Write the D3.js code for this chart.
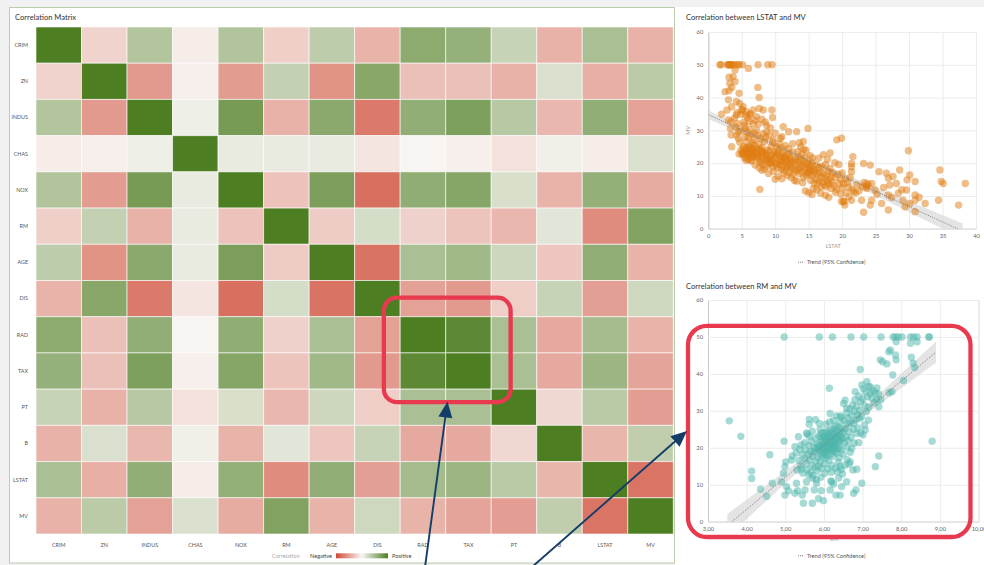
<!DOCTYPE html>
<html><head><meta charset="utf-8">
<script src="https://cdn.jsdelivr.net/npm/d3@7"></script>
<style>
html,body{margin:0;padding:0;background:#f1f1f1;}
svg{display:block;font-family:Lato,"Open Sans",sans-serif;}
</style></head>
<body><svg id="chart" width="984" height="565"></svg>
<script>
// ---------------- DATA ----------------
const variables = ["CRIM","ZN","INDUS","CHAS","NOX","RM","AGE","DIS","RAD","TAX","PT","B","LSTAT","MV"];
const corrValues = [
 [1.00,-0.20,0.41,-0.06,0.42,-0.22,0.35,-0.38,0.63,0.58,0.29,-0.39,0.46,-0.39],
 [-0.20,1.00,-0.53,-0.04,-0.52,0.31,-0.57,0.66,-0.31,-0.31,-0.39,0.18,-0.41,0.36],
 [0.41,-0.53,1.00,0.06,0.76,-0.39,0.64,-0.71,0.60,0.72,0.38,-0.36,0.60,-0.48],
 [-0.06,-0.04,0.06,1.00,0.09,0.09,0.09,-0.10,-0.01,-0.04,-0.12,0.05,-0.05,0.18],
 [0.42,-0.52,0.76,0.09,1.00,-0.30,0.73,-0.77,0.61,0.67,0.19,-0.38,0.59,-0.43],
 [-0.22,0.31,-0.39,0.09,-0.30,1.00,-0.24,0.21,-0.21,-0.29,-0.36,0.13,-0.61,0.70],
 [0.35,-0.57,0.64,0.09,0.73,-0.24,1.00,-0.75,0.46,0.51,0.26,-0.27,0.60,-0.38],
 [-0.38,0.66,-0.71,-0.10,-0.77,0.21,-0.75,1.00,-0.49,-0.53,-0.23,0.29,-0.50,0.25],
 [0.63,-0.31,0.60,-0.01,0.61,-0.21,0.46,-0.49,1.00,0.91,0.46,-0.44,0.49,-0.38],
 [0.58,-0.31,0.72,-0.04,0.67,-0.29,0.51,-0.53,0.91,1.00,0.46,-0.44,0.54,-0.47],
 [0.29,-0.39,0.38,-0.12,0.19,-0.36,0.26,-0.23,0.46,0.46,1.00,-0.18,0.37,-0.51],
 [-0.39,0.18,-0.36,0.05,-0.38,0.13,-0.27,0.29,-0.44,-0.44,-0.18,1.00,-0.37,0.33],
 [0.46,-0.41,0.60,-0.05,0.59,-0.61,0.60,-0.50,0.49,0.54,0.37,-0.37,1.00,-0.74],
 [-0.39,0.36,-0.48,0.18,-0.43,0.70,-0.38,0.25,-0.38,-0.47,-0.51,0.33,-0.74,1.00]
];
const highlightVars = ["RAD","TAX"];

const lstatTicks = [0,5,10,15,20,25,30,35,40];
const rmTicks = [3,4,5,6,7,8,9,10];
const mvTicks = [0,10,20,30,40,50,60];

// [LSTAT, MV]
const lstatMvPoints = [
 [1.73,50],[1.92,50],[2.88,50],[2.97,50],[3.16,50],[3.26,50],[3.32,50],[3.53,50],[3.70,50],[4.04,50],[4.45,50],[4.59,50],[5.12,50],[7.44,50],[8.88,50],[9.53,50],
 [4.0,48.4],[3.7,46.4],[3.1,46.2],[4.0,44.9],[3.2,44.4],[3.5,43.1],[2.5,41.8],[3.1,42.1],[4.6,41.3],[7.4,43.1],[7.6,40.0],[6.0,48.9],[3.0,39.3],[4.2,38.8],
 [2.0,34.9],[2.8,36.2],[3.5,37.2],[4.7,38.2],[5.2,37.2],[5.0,36.2],[5.7,35.7],[6.7,36.2],[7.6,36.7],[8.2,36.2],[9.5,36.2],[9.6,33.9],[3.4,32.7],[3.9,33.7],
 [4.2,34.7],[6.2,34.7],[7.2,34.2],[7.5,31.9],[6.1,32.7],[3.0,33.2],[3.3,30.6],[3.4,28.6],[3.5,25.0],[5.5,30.6],[4.5,29.6],[8.7,31.6],[8.7,29.6],[10.0,29.1],
 [11.2,31.1],[12.0,29.6],[13.2,29.6],[14.9,30.6],[9.7,27.1],[11.0,28.1],[14.2,26.6],[19.2,27.1],[19.9,27.6],[29.9,23.8],[7.7,12.0],
 [4.2,28.5],[4.5,27.5],[4.7,26.4],[4.9,24.0],[5.0,23.1],[5.1,22.6],[5.2,25.0],[5.3,24.4],[5.5,23.6],[5.6,22.0],[5.7,26.5],[5.8,24.8],[5.9,23.3],[6.0,21.2],
 [6.1,24.1],[6.2,25.3],[6.3,22.8],[6.4,23.9],[6.5,20.6],[6.6,24.5],[6.7,22.2],[6.8,27.0],[6.9,25.5],[7.0,23.0],[7.1,21.7],[4.6,22.8],[4.8,29.8],[5.4,31.5],
 [5.5,28.0],[5.8,29.5],[6.0,27.9],[6.2,30.3],[6.4,28.7],[6.6,26.2],[6.9,29.1],[7.0,33.1],[5.3,32.5],[5.9,33.8],[6.3,35.1],[6.7,32.0],[4.4,32.0],[4.1,31.0],
 [4.3,35.4],[4.9,34.9],[5.1,36.2],[5.6,34.6],[5.4,21.5],[5.8,22.9],[6.1,22.5],[6.5,23.2],[5.7,20.8],[6.3,21.1],[6.8,24.0],[5.3,23.0],[6.0,24.6],[6.6,21.9],
 [7.2,24.5],[7.3,23.4],[7.4,22.0],[7.5,21.4],[7.6,25.8],[7.7,20.1],[7.8,23.9],[7.9,22.5],[8.0,24.8],[8.1,19.6],[8.2,21.8],[8.3,23.1],[8.4,26.6],[8.5,20.9],
 [8.6,22.9],[8.7,19.0],[8.8,24.0],[8.9,21.5],[9.0,20.3],[9.1,23.7],[9.2,19.8],[9.3,22.2],[9.4,25.0],[9.5,21.0],[9.6,18.8],[9.7,22.8],[9.8,20.5],[9.9,23.3],
 [7.4,28.4],[7.8,27.5],[8.2,29.0],[8.6,27.8],[9.1,28.5],[9.6,26.4],[7.6,18.6],[8.0,17.8],[8.4,18.2],[9.0,16.8],[9.7,17.5],[7.2,30.1],[8.5,32.5],[9.3,30.7],
 [8.0,33.4],[7.0,19.4],[7.9,20.6],[8.8,21.2],[9.4,20.0],[7.3,22.7],[8.1,23.5],[8.7,22.3],[9.2,21.3],[7.7,24.2],
 [10.0,21.7],[10.1,19.4],[10.2,22.6],[10.3,20.0],[10.4,18.5],[10.5,23.9],[10.6,21.1],[10.7,19.6],[10.8,22.0],[10.9,18.1],[11.0,20.5],[11.1,23.1],[11.2,19.1],
 [11.3,21.6],[11.4,17.8],[11.5,20.1],[11.6,22.4],[11.7,18.7],[11.8,20.8],[11.9,19.3],[12.0,22.9],[12.1,17.2],[12.2,20.6],[12.3,18.4],[12.4,21.2],[12.5,19.0],
 [12.6,23.4],[12.7,16.6],[12.8,20.3],[12.9,18.0],[10.2,25.0],[10.6,26.0],[11.0,24.6],[11.5,25.4],[12.0,24.4],[12.6,25.9],[10.4,16.0],[11.0,15.2],[11.8,16.2],
 [12.4,15.6],[10.0,15.1],[12.9,14.7],[10.8,27.5],[11.3,17.0],[12.2,19.7],[10.3,23.0],[10.9,20.9],[11.6,21.3],[12.1,21.8],[11.2,22.3],
 [13.0,21.4],[13.1,19.5],[13.2,17.6],[13.3,20.8],[13.4,18.3],[13.5,22.0],[13.6,16.8],[13.7,19.9],[13.8,18.7],[13.9,21.0],[14.0,17.4],[14.1,19.2],[14.2,15.6],
 [14.3,20.4],[14.4,18.0],[14.5,21.7],[14.6,16.2],[14.7,19.6],[14.8,17.1],[14.9,20.0],[15.0,18.5],[15.1,16.6],[15.2,19.3],[15.3,14.8],[15.4,17.7],[15.5,20.3],
 [15.6,16.0],[15.7,18.2],[15.8,13.8],[15.9,17.0],[13.4,23.5],[14.0,22.8],[14.6,23.9],[15.2,22.3],[13.8,25.0],[14.3,24.2],[15.0,11.0],[15.5,10.4],[14.5,11.5],
 [13.2,14.5],[14.1,14.0],[15.7,12.2],[13.6,26.2],[15.6,21.6],[14.9,17.4],[15.3,18.8],
 [16.0,17.8],[16.1,15.2],[16.2,19.4],[16.3,13.9],[16.4,16.6],[16.5,18.6],[16.6,14.6],[16.7,17.2],[16.8,12.7],[16.9,15.8],[17.0,18.9],[17.1,14.1],[17.2,16.8],
 [17.3,13.3],[17.4,15.4],[17.5,19.6],[17.6,12.8],[17.7,16.2],[17.8,14.4],[17.9,17.5],[18.0,13.6],[18.1,15.0],[18.2,18.4],[18.3,12.3],[18.4,16.0],[18.5,14.0],
 [18.6,17.1],[18.8,13.1],[19.0,15.6],[19.2,12.0],[19.4,16.6],[19.6,13.8],[19.8,14.9],[20.0,17.0],[16.5,21.5],[17.2,22.6],[17.8,21.2],[18.2,23.1],[18.9,20.1],
 [19.5,19.6],[16.8,10.8],[17.5,10.2],[18.0,9.6],[19.0,11.1],[19.8,10.5],[16.2,11.9],[20.0,12.5],[20.2,13.6],[20.5,15.2],[20.8,14.0],[21.0,12.7],[21.2,15.6],
 [20.6,11.0],[21.5,12.0],[21.0,9.7],[22.0,10.9],[22.5,11.5],[23.0,12.7],[23.3,14.1],[23.6,12.8],[22.2,13.4],[20.3,8.4],[19.9,8.3],
 [20.2,8.2],[20.4,7.2],[21.4,8.7],[21.7,11.3],[21.6,22.0],[21.4,19.9],[21.4,18.9],[21.4,17.4],[23.2,19.9],[24.2,19.4],[23.2,5.0],[22.9,8.7],[24.2,7.2],
 [24.4,8.7],[23.7,13.8],[23.9,13.3],[24.4,13.8],[23.7,12.3],[24.9,11.8],[25.5,17.4],[26.6,16.9],[26.9,15.4],[27.1,13.3],[27.6,15.9],[28.1,13.8],[28.6,17.9],
 [28.4,10.8],[26.9,10.3],[25.9,7.7],[26.9,5.7],[29.1,8.7],[29.6,11.8],[29.7,14.9],[30.1,16.4],[30.9,14.4],[30.9,10.3],[30.9,8.7],[30.1,7.7],[30.9,5.2],
 [32.4,7.7],[34.4,8.7],[34.6,17.9],[34.8,14.4],[35.1,13.8],[37.4,7.2],[38.4,13.8],[29.4,6.7],[25.2,10.5],[26.2,12.6],[27.4,9.5],[28.9,11.9],[31.5,9.6]
];

// [RM, MV]
const rmMvPoints = [
 [4.97,50],[5.88,50],[6.22,50],[6.70,50],[7.03,50],[7.48,50],[7.79,50],[7.85,50],[7.92,50],[8.02,50],[8.24,50],[8.32,50],[8.41,50],[8.71,50],[8.73,50],[7.87,48.7],
 [8.24,48.3],[8.41,48.7],
 [3.55,27.3],[3.85,23.1],[4.13,13.7],[4.13,11.7],[4.36,8.8],[4.52,6.9],[4.60,18.1],[4.66,10.4],[8.80,21.8],[4.97,21.8],[7.33,14.9],[7.42,17.8],[6.14,36.1],
 [6.94,41.2],[7.78,39.7],[8.06,38.2],[8.26,44.5],[8.35,41.7],[8.31,42.9],[7.46,43.8],[7.52,43.3],[7.63,42.7],[7.68,46.0],[7.72,46.5],[7.85,45.1],[7.87,43.8],
 [7.76,35.2],[7.69,34.9],[7.20,34.7],[7.16,36.6],[6.98,37.0],[7.11,37.9],[6.81,35.2],[7.37,33.1],[7.42,31.1],
 [5.47,5.0],[5.70,5.0],[5.99,5.7],[5.86,6.2],[5.44,7.2],[5.25,7.7],[4.99,7.2],[5.08,8.4],[5.32,8.4],[5.51,8.6],[5.75,8.6],[5.93,8.4],[6.16,8.6],[6.31,7.2],
 [6.42,7.2],[6.77,7.7],[6.83,8.6],[6.46,9.5],[6.59,10.8],[6.98,10.4],[6.20,10.8],[5.81,10.4],[5.55,10.8],[5.29,10.4],[5.03,9.5],[4.90,10.8],[4.95,13.1],
 [4.99,14.9],[5.01,16.2],[5.16,16.7],[5.18,17.8],[5.38,19.6],[5.41,20.8],[5.34,23.0],[5.62,27.7],[5.62,26.4],[5.57,23.7],[5.42,14.2],[6.75,14.0],[6.85,14.2],
 [6.68,16.2],[6.90,21.4],[7.07,24.8],[7.01,23.5],[6.77,26.6],[6.51,32.0],[6.55,32.9],[6.59,30.7],[6.42,28.6],[6.16,29.3],
 [5.50,17.2],[5.52,19.4],[5.55,15.6],[5.57,14.1],[5.60,18.4],[5.61,20.6],[5.63,16.7],[5.65,13.3],[5.66,19.0],[5.68,21.7],[5.70,15.2],[5.71,17.8],[5.72,12.5],
 [5.74,20.0],[5.75,18.9],[5.76,14.6],[5.78,22.6],[5.79,16.4],[5.80,19.8],[5.82,13.8],[5.83,21.0],[5.84,17.4],[5.86,15.0],[5.87,23.2],[5.88,19.3],[5.89,20.4],
 [5.90,16.1],[5.91,18.2],[5.92,21.7],[5.93,14.4],[5.94,19.9],[5.95,22.9],[5.96,17.5],[5.97,20.6],[5.98,24.1],[5.99,18.7],[6.00,21.2],[6.01,15.6],[6.02,19.4],
 [6.03,23.0],[6.04,20.1],[6.05,17.2],[6.06,22.2],[6.07,19.0],[6.08,24.5],[6.09,20.8],[6.10,18.0],[6.11,21.7],[6.12,23.6],[6.13,16.6],[6.14,20.3],[6.15,22.5],
 [6.16,19.6],[6.17,25.0],[6.18,21.1],[6.19,13.4],[6.20,23.1],[6.21,19.3],[6.22,24.4],[6.23,20.9],[6.24,17.8],[6.25,22.2],[6.26,25.3],[6.27,21.6],[6.28,19.0],
 [6.29,23.8],[6.30,20.5],[6.31,26.0],[6.32,22.4],[6.33,18.6],[6.34,24.6],[6.35,21.2],[6.36,23.3],[6.37,16.1],[6.38,25.6],[6.39,22.0],[6.40,20.0],[6.41,24.0],
 [6.42,26.7],[6.43,21.7],[6.44,23.1],[6.45,19.4],[6.46,25.0],[6.48,22.6],[6.50,24.3],[6.52,27.5],[6.53,21.3],[6.55,25.1],[6.57,23.0],[6.58,29.4],[6.60,26.4],
 [6.62,22.0],[6.63,28.1],[6.65,24.4],[6.67,30.5],[6.68,26.7],[6.70,22.8],[6.72,28.7],[6.74,31.6],[6.76,25.0],[6.78,29.9],[6.80,33.0],[6.82,27.5],[6.85,31.2],
 [6.87,29.0],[6.90,34.0],[6.92,30.1],[6.95,32.5],[6.97,28.4],[7.00,33.2],[7.02,36.0],[7.05,31.5],[7.08,35.1],[7.10,29.8],[7.13,33.8],[7.16,31.0],[7.20,36.5],
 [7.24,33.4],[7.27,35.4],[7.30,32.2],[7.33,34.9],[7.37,36.2],[7.42,34.6],[7.47,33.0],
 [5.85,20.5],[5.92,23.9],[5.97,21.9],[6.03,18.2],[6.06,24.0],[6.11,19.9],[6.14,23.3],[6.18,18.4],[6.22,21.8],[6.26,19.8],[6.30,22.9],[6.12,20.6],[6.00,22.7],
 [5.95,19.0],[6.08,21.5],[6.16,22.8],[6.20,20.2],[6.24,23.9],[6.28,21.0],[6.35,19.7],[6.40,22.5],[6.05,26.4],[6.15,27.0],[6.25,27.4],[5.88,26.6],[5.78,27.6],
 [5.90,25.0],[6.33,28.6],[6.45,28.2],[6.02,13.1],[6.10,14.4],[6.20,15.2],[6.30,14.5],[6.35,13.5],[6.45,14.2],[6.55,15.3],[6.60,16.8],[6.50,18.3],[6.68,18.8],
 [6.72,19.9],[6.60,20.2],[6.18,11.0],[6.25,10.2],[6.38,11.8],[6.48,12.9],[5.92,12.0],[5.80,11.4],[5.70,11.8],[5.60,12.7],[5.45,13.2],[5.40,15.1],[5.35,16.6],
 [5.30,14.0],[5.28,18.6],[5.25,20.3],[5.45,18.1],[5.50,21.4],[5.62,23.1],[5.70,24.5],[5.55,24.0],[6.40,17.4],[6.42,15.0],[6.65,15.6],[6.78,21.3],[6.84,23.9],
 [6.88,25.4],[6.95,24.0],[7.05,26.2],[7.15,27.5],[6.92,27.9]
];
const trendRangeLstat = [0, 38];
const trendRangeRm = [3.5, 8.9];

// ---------------- DRAWING ----------------
const svg = d3.select("#chart");
const FONT = 'Lato,"Open Sans",sans-serif';

// page / panels
svg.append("rect").attr("x",0).attr("y",0).attr("width",984).attr("height",565).attr("fill","#f1f1f1");
svg.append("rect").attr("x",675).attr("y",7).attr("width",309).attr("height",558).attr("fill","#ffffff");
svg.append("rect").attr("x",9.5).attr("y",7.5).attr("width",665).attr("height",555.5)
  .attr("fill","#ffffff").attr("stroke","#bccdae").attr("stroke-width",1);

svg.append("text").attr("x",15).attr("y",19.5).attr("font-size",7.6).attr("fill","#333")
  .text("Correlation Matrix");

// matrix
const mx = d3.scaleBand().domain(variables).range([36, 673.3]);
const my = d3.scaleBand().domain(variables).range([27, 534]);
const color = d3.scaleLinear().domain([-1,0,1]).range(["#cf4834","#f8f6f3","#4e7e22"]);

const cells = [];
variables.forEach((rv,i)=>variables.forEach((cv,j)=>cells.push({row:rv,col:cv,v:corrValues[i][j]})));
svg.append("g").selectAll("rect").data(cells).join("rect")
  .attr("x",d=>mx(d.col)).attr("y",d=>my(d.row))
  .attr("width",mx.bandwidth()).attr("height",my.bandwidth())
  .attr("fill",d=>color(d.v))
  .attr("stroke","#ffffff").attr("stroke-opacity",0.6).attr("stroke-width",1);

svg.append("g").selectAll("text").data(variables).join("text")
  .attr("x",28).attr("y",d=>my(d)+my.bandwidth()/2).attr("dy","0.35em")
  .attr("text-anchor","end").attr("font-size",5.4).attr("fill","#555").text(d=>d);
svg.append("g").selectAll("text").data(variables).join("text")
  .attr("x",d=>mx(d)+mx.bandwidth()/2).attr("y",547)
  .attr("text-anchor","middle").attr("font-size",5.4).attr("fill","#555").text(d=>d);

// legend
const defs = svg.append("defs");
const grad = defs.append("linearGradient").attr("id","corrGrad");
[-1,-0.5,0,0.5,1].forEach(v=>grad.append("stop").attr("offset",((v+1)/2*100)+"%").attr("stop-color",color(v)));
svg.append("text").attr("x",272).attr("y",558.3).attr("font-size",5.6).attr("fill","#aaa").text("Correlation");
svg.append("text").attr("x",310).attr("y",558.3).attr("font-size",5.6).attr("fill","#444").text("Negative");
svg.append("rect").attr("x",336).attr("y",553.3).attr("width",52).attr("height",5).attr("fill","url(#corrGrad)");
svg.append("text").attr("x",392).attr("y",558.3).attr("font-size",5.6).attr("fill","#444").text("Positive");

// regression helper
function regress(pts){
  const n = pts.length;
  const mxv = d3.mean(pts,d=>d[0]), myv = d3.mean(pts,d=>d[1]);
  let sxx=0, sxy=0;
  pts.forEach(([a,b])=>{sxx+=(a-mxv)**2; sxy+=(a-mxv)*(b-myv);});
  const slope = sxy/sxx, icpt = myv - slope*mxv;
  let sse=0; pts.forEach(([a,b])=>{sse+=(b-icpt-slope*a)**2;});
  const s = Math.sqrt(sse/(n-2));
  return {slope, icpt, f:x=>icpt+slope*x, se:x=>s*Math.sqrt(1/n+(x-mxv)**2/sxx)};
}

function scatter(cfg){
  const g = svg.append("g");
  const sx = d3.scaleLinear().domain(cfg.xDomain).range(cfg.xRange);
  const sy = d3.scaleLinear().domain([0,60]).range(cfg.yRange);
  const W = cfg.xRange[1]-cfg.xRange[0], H = cfg.yRange[0]-cfg.yRange[1];

  g.append("text").attr("x",686).attr("y",cfg.titleY).attr("font-size",7.6).attr("fill","#333").text(cfg.title);

  const xa = g.append("g").attr("transform",`translate(0,${cfg.yRange[0]})`)
    .call(d3.axisBottom(sx).tickValues(cfg.xTicks).tickSize(-H).tickPadding(5).tickFormat(cfg.fmt));
  xa.select(".domain").attr("stroke","#dcdcdc");
  xa.selectAll(".tick line").attr("stroke","#ececec");
  xa.selectAll(".tick text").attr("font-size",5.8).attr("fill","#666").attr("font-family",FONT);

  const ya = g.append("g").attr("transform",`translate(${cfg.xRange[0]},0)`)
    .call(d3.axisLeft(sy).tickValues(mvTicks).tickSize(-W).tickPadding(5));
  ya.selectAll(".tick line").attr("stroke","#ececec");
  ya.select(".domain").attr("stroke","#c8c8c8");
  ya.selectAll(".tick text").attr("font-size",5.8).attr("fill","#666").attr("font-family",FONT);

  g.append("text").attr("x",(cfg.xRange[0]+cfg.xRange[1])/2 - 9).attr("y",cfg.yRange[0]+19)
    .attr("text-anchor","middle").attr("font-size",5.6).attr("fill","#999").text(cfg.xLabel);
  g.append("text").attr("transform",`translate(690,${(cfg.yRange[0]+cfg.yRange[1])/2}) rotate(-90)`)
    .attr("text-anchor","middle").attr("font-size",5.6).attr("fill","#999").text("MV");

  const clipId = "clip"+cfg.id;
  defs.append("clipPath").attr("id",clipId).append("rect")
    .attr("x",cfg.xRange[0]).attr("y",cfg.yRange[1]).attr("width",W).attr("height",H);
  const pg = g.append("g").attr("clip-path",`url(#${clipId})`);

  const r = regress(cfg.data);
  const xs = d3.range(0,101).map(i=>cfg.trendRange[0]+(cfg.trendRange[1]-cfg.trendRange[0])*i/100);
  pg.append("path").datum(xs)
    .attr("d",d3.area().x(d=>sx(d)).y0(d=>sy(r.f(d)-1.96*r.se(d))).y1(d=>sy(r.f(d)+1.96*r.se(d))))
    .attr("fill","#d9d9d9").attr("opacity",0.7);

  pg.append("g").selectAll("circle").data(cfg.data).join("circle")
    .attr("cx",d=>sx(d[0])).attr("cy",d=>sy(d[1])).attr("r",3.7)
    .attr("fill",cfg.color).attr("fill-opacity",cfg.opacity);

  pg.append("path").datum(xs)
    .attr("d",d3.line().x(d=>sx(d)).y(d=>sy(r.f(d))))
    .attr("fill","none").attr("stroke","#7a7a7a").attr("stroke-width",1).attr("stroke-dasharray","1,1.3");

  // legend
  const ly = cfg.legendY;
  g.append("line").attr("x1",798).attr("x2",804).attr("y1",ly-1.8).attr("y2",ly-1.8)
    .attr("stroke","#777").attr("stroke-width",1).attr("stroke-dasharray","1,1");
  g.append("text").attr("x",807).attr("y",ly).attr("font-size",5.6).attr("fill","#555").text("Trend (95% Confidence)");
}

scatter({id:"A", data:lstatMvPoints, xDomain:[0,40], xRange:[708.3,976], yRange:[228.7,32],
  xTicks:lstatTicks, fmt:d3.format("d"), color:"#e07b10", opacity:0.5,
  title:"Correlation between LSTAT and MV", titleY:19.5, xLabel:"LSTAT", legendY:264, trendRange:trendRangeLstat});
scatter({id:"B", data:rmMvPoints, xDomain:[3,10], xRange:[708,978.5], yRange:[521.7,300],
  xTicks:rmTicks, fmt:d=>d.toFixed(2).replace(".",","), color:"#4db5ab", opacity:0.5,
  title:"Correlation between RM and MV", titleY:288.5, xLabel:"RM", legendY:557.5, trendRange:trendRangeRm});

// annotations
const annot = svg.append("g");
const rx0 = mx(highlightVars[0]) - 16.3, rx1 = mx(highlightVars[1]) + mx.bandwidth() + 19.4;
const ry0 = my(highlightVars[0]) - 19, ry1 = my(highlightVars[1]) + my.bandwidth() + 13;
annot.append("rect").attr("x",rx0).attr("y",ry0).attr("width",rx1-rx0).attr("height",ry1-ry0)
  .attr("rx",13).attr("ry",13).attr("fill","none").attr("stroke","#e8394f").attr("stroke-width",4.3);
annot.append("rect").attr("x",688).attr("y",325.8).attr("width",282.5).attr("height",211.2)
  .attr("rx",19).attr("ry",19).attr("fill","none").attr("stroke","#e8394f").attr("stroke-width",4.3);

function arrow(x0,y0,x1,y1){
  const ang = Math.atan2(y1-y0,x1-x0), L=16, Wd=7;
  const bx = x1 - L*Math.cos(ang), by = y1 - L*Math.sin(ang);
  annot.append("line").attr("x1",x0).attr("y1",y0).attr("x2",bx+3*Math.cos(ang)).attr("y2",by+3*Math.sin(ang))
    .attr("stroke","#133e68").attr("stroke-width",1.9);
  const px = -Math.sin(ang), py = Math.cos(ang);
  annot.append("path").attr("d",`M${x1},${y1}L${bx+px*Wd},${by+py*Wd}L${bx-px*Wd},${by-py*Wd}Z`).attr("fill","#133e68");
}
arrow(425,567,447.5,401.5);
arrow(532,567,687,431);
</script>
</body></html>
